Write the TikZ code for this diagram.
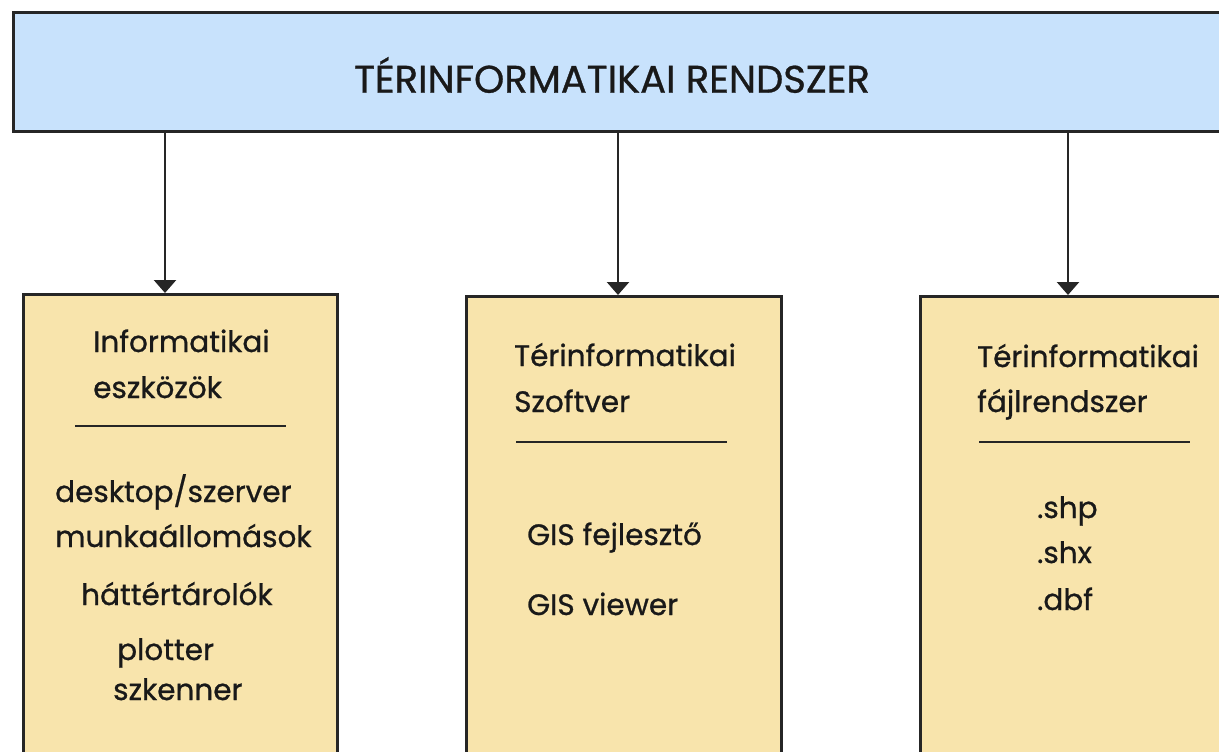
\documentclass[tikz,border=0pt]{standalone}
\usepackage{fontspec}
\setmainfont{Poppins}
\newfontfamily\lblfont{Poppins}[FakeBold=0.8]
\usetikzlibrary{arrows.meta}
\definecolor{topblue}{HTML}{C8E2FC}
\definecolor{boxyellow}{HTML}{F8E4AC}
\tikzset{
  panel/.style={draw=black!85, line width=3pt, anchor=north west, inner sep=0pt},
  label/.style={anchor=base west, inner sep=0pt, font=\lblfont\fontsize{29.5}{34}\selectfont, text=black!90},
  sep/.style={line width=2.5pt, draw=black!85},
  conn/.style={line width=2.5pt, draw=black!85, -{Triangle[width=22pt,length=13pt]}},
}
\begin{document}
\begin{tikzpicture}[x=1pt,y=-1pt]
\useasboundingbox (0,0) rectangle (1219,752);
\clip (0,0) rectangle (1219,752);
% top box
\node[panel, fill=topblue, minimum width=1240pt, minimum height=119pt] (top) at (12,11) {};
\node[inner sep=0pt, font=\lblfont\fontsize{38.5}{44}\selectfont, text=black!90] (title) at (612,75) {TÉRINFORMATIKAI RENDSZER};
% lower boxes
\node[panel, fill=boxyellow, minimum width=314pt, minimum height=480pt] (lbox) at (22,293) {};
\node[panel, fill=boxyellow, minimum width=315pt, minimum height=480pt] (mbox) at (465,295) {};
\node[panel, fill=boxyellow, minimum width=340pt, minimum height=480pt] (rbox) at (919,295) {};
% arrow start points
\coordinate (la) at (165,130);
\coordinate (ma) at (618,130);
\coordinate (ra) at (1068,130);
\draw[conn] (la) -- (la |- lbox.north);
\draw[conn] (ma) -- (ma |- mbox.north);
\draw[conn] (ra) -- (ra |- rbox.north);
% left box text
\node[label] (l1) at (93,352) {Informatikai};
\node[label] (l2) at (93,398) {eszközök};
\coordinate (ls1) at (75,426);
\coordinate (ls2) at (286,426);
\draw[sep] (ls1) -- (ls2);
\node[label] (l3) at (55,502) {desktop/szerver};
\node[label] (l4) at (55,547) {munkaállomások};
\node[label] (l5) at (81,605) {háttértárolók};
\node[label] (l6) at (117,660) {plotter};
\node[label] (l7) at (113,700) {szkenner};
% middle box text
\node[label] (m1) at (514,366) {Térinformatikai};
\node[label] (m2) at (514,412) {Szoftver};
\coordinate (ms1) at (516,442);
\coordinate (ms2) at (727,442);
\draw[sep] (ms1) -- (ms2);
\node[label] (m3) at (527,545) {GIS fejlesztő};
\node[label] (m4) at (527,615) {GIS viewer};
% right box text
\node[label] (r1) at (977,367) {Térinformatikai};
\node[label] (r2) at (977,412) {fájlrendszer};
\coordinate (rs1) at (979,442);
\coordinate (rs2) at (1190,442);
\draw[sep] (rs1) -- (rs2);
\node[label] (r3) at (1037,518) {.shp};
\node[label] (r4) at (1037,563) {.shx};
\node[label] (r5) at (1037,610) {.dbf};
\end{tikzpicture}
\end{document}
